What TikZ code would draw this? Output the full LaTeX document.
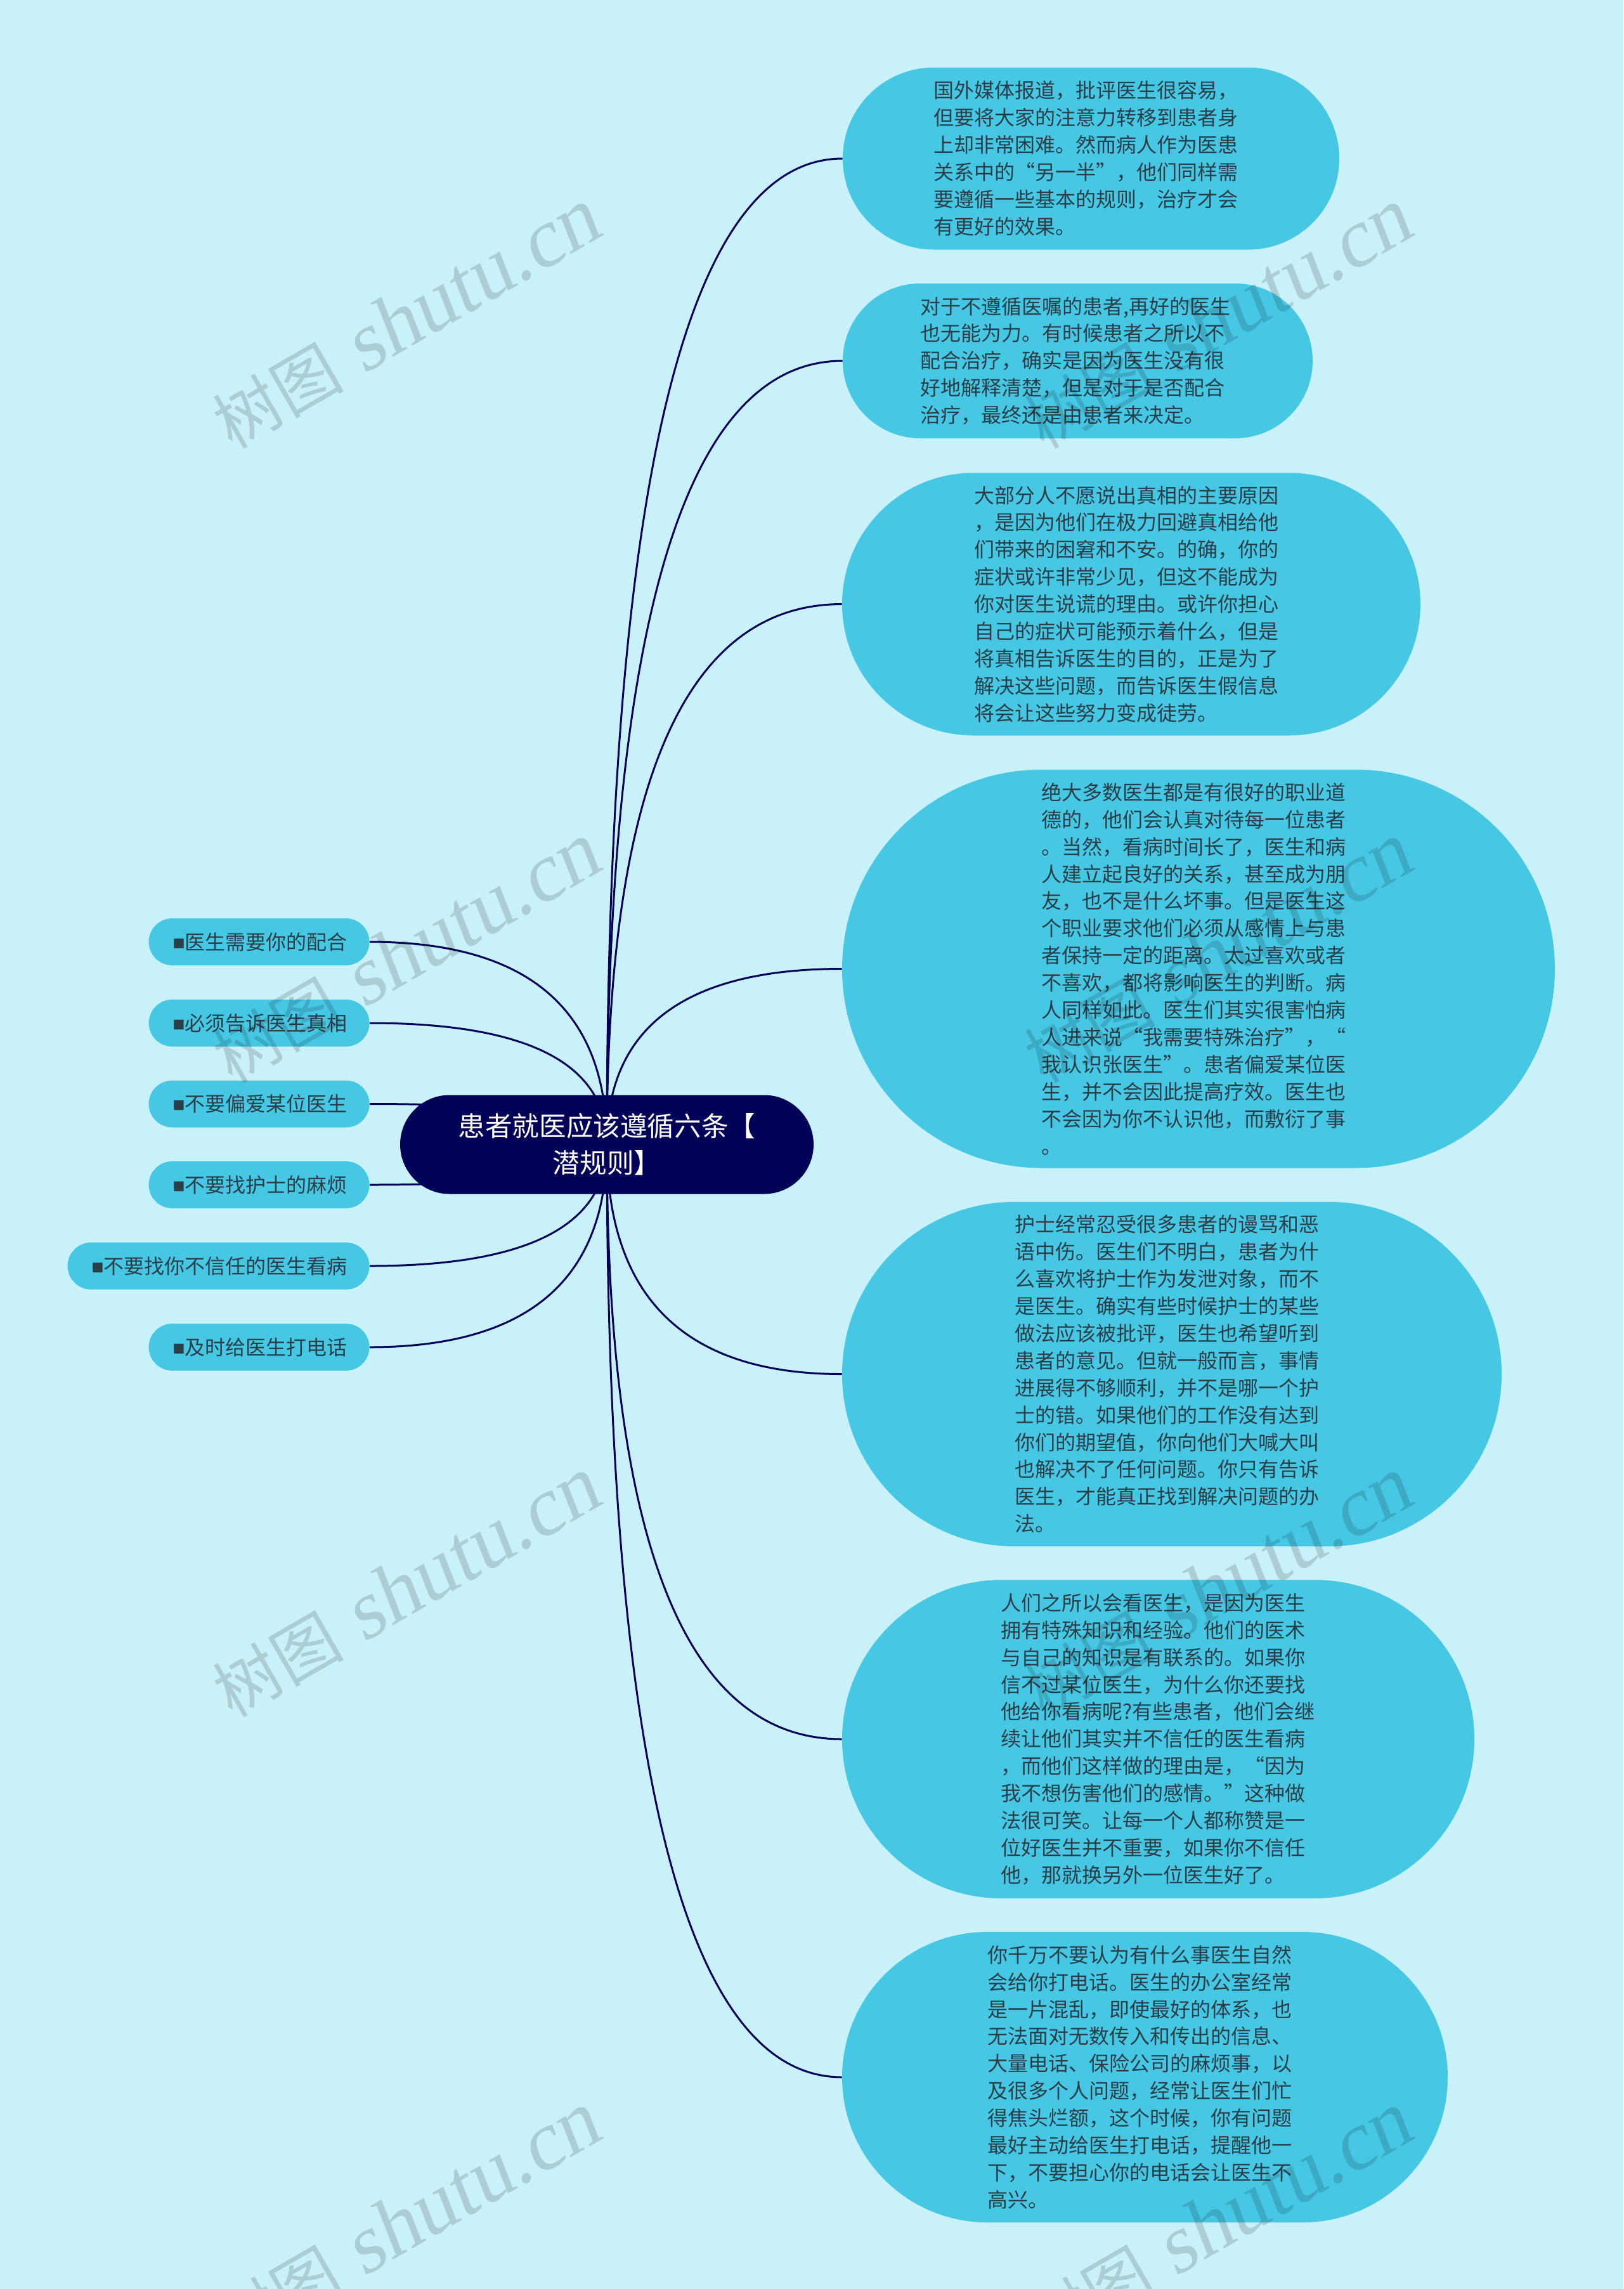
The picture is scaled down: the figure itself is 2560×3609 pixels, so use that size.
\documentclass[tikz,border=0pt]{standalone}
\usepackage{fontspec}
\setmainfont{Noto Sans CJK SC}
\newfontfamily\boxfont{Liberation Sans}
\newfontfamily\marklatin[FakeSlant=0.15]{Liberation Serif}
\newfontfamily\markcjk{Noto Sans CJK SC}
\usetikzlibrary{shapes.misc, backgrounds, calc}

\definecolor{pagebg}{RGB}{201, 241, 249}
\definecolor{pillblue}{RGB}{70, 200, 229}
\definecolor{rootnavy}{RGB}{1, 1, 88}
\definecolor{inkdark}{RGB}{42, 62, 72}

\tikzset{
	branch/.style={draw=rootnavy, line width=1.5pt},
	rootpill/.style={rounded rectangle, fill=rootnavy, text=white, align=center, inner sep=0pt,
		minimum width=326pt, minimum height=78pt, font=\fontsize{21.3}{28.8}\selectfont},
	leafpill/.style={rounded rectangle, fill=pillblue, text=inkdark, inner sep=0pt,
		minimum height=37pt, anchor=east, font=\fontsize{16}{21.45}\selectfont},
	detail/.style={rounded rectangle, fill=pillblue, text=inkdark, align=left, inner sep=0pt,
		text width=248pt, font=\fontsize{16}{21.45}\selectfont},
	watermark/.style={rotate=30, text=black, text opacity=.15, inner sep=0pt}
}
\newcommand{\sq}{{\kern1.5pt\boxfont\fontsize{16}{21.45}\selectfont ■}}

\begin{document}
\begin{tikzpicture}[x=.5pt, y=-.5pt]
	\useasboundingbox (0, 0) rectangle (2560, 3609);

	\node[rootpill] (root) at (957, 1804.5) {患者就医应该遵循六条【\\潜规则】};

	\node[leafpill, minimum width=174pt] (l1) at (583, 1485) {\sq 医生需要你的配合};
	\node[leafpill, minimum width=174pt] (l2) at (583, 1613) {\sq 必须告诉医生真相};
	\node[leafpill, minimum width=174pt] (l3) at (583, 1740.5) {\sq 不要偏爱某位医生};
	\node[leafpill, minimum width=174pt] (l4) at (583, 1868) {\sq 不要找护士的麻烦};
	\node[leafpill, minimum width=238pt] (l5) at (583, 1996) {\sq 不要找你不信任的医生看病};
	\node[leafpill, minimum width=174pt] (l6) at (583, 2124) {\sq 及时给医生打电话};

	\node[detail, minimum width=391.5pt, minimum height=143.5pt] (d1) at (1720.5, 250) {国外媒体报道，批评医生很容易，\\但要将大家的注意力转移到患者身\\上却非常困难。然而病人作为医患\\关系中的“另一半”，他们同样需\\要遵循一些基本的规则，治疗才会\\有更好的效果。};
	\node[detail, minimum width=370.5pt, minimum height=122pt] (d2) at (1699.5, 569) {对于不遵循医嘱的患者,再好的医生\\也无能为力。有时候患者之所以不\\配合治疗，确实是因为医生没有很\\好地解释清楚，但是对于是否配合\\治疗，最终还是由患者来决定。};
	\node[detail, minimum width=456pt, minimum height=207pt] (d3) at (1784, 952.5) {大部分人不愿说出真相的主要原因\\，是因为他们在极力回避真相给他\\们带来的困窘和不安。的确，你的\\症状或许非常少见，但这不能成为\\你对医生说谎的理由。或许你担心\\自己的症状可能预示着什么，但是\\将真相告诉医生的目的，正是为了\\解决这些问题，而告诉医生假信息\\将会让这些努力变成徒劳。};
	\node[detail, minimum width=562pt, minimum height=314pt] (d4) at (1890, 1527.5) {绝大多数医生都是有很好的职业道\\德的，他们会认真对待每一位患者\\。当然，看病时间长了，医生和病\\人建立起良好的关系，甚至成为朋\\友，也不是什么坏事。但是医生这\\个职业要求他们必须从感情上与患\\者保持一定的距离。太过喜欢或者\\不喜欢，都将影响医生的判断。病\\人同样如此。医生们其实很害怕病\\人进来说“我需要特殊治疗”，“\\我认识张医生”。患者偏爱某位医\\生，并不会因此提高疗效。医生也\\不会因为你不认识他，而敷衍了事\\。};
	\node[detail, minimum width=520pt, minimum height=271.5pt] (d5) at (1848, 2166.5) {护士经常忍受很多患者的谩骂和恶\\语中伤。医生们不明白，患者为什\\么喜欢将护士作为发泄对象，而不\\是医生。确实有些时候护士的某些\\做法应该被批评，医生也希望听到\\患者的意见。但就一般而言，事情\\进展得不够顺利，并不是哪一个护\\士的错。如果他们的工作没有达到\\你们的期望值，你向他们大喊大叫\\也解决不了任何问题。你只有告诉\\医生，才能真正找到解决问题的办\\法。};
	\node[detail, minimum width=498.5pt, minimum height=251pt] (d6) at (1826.5, 2742) {人们之所以会看医生，是因为医生\\拥有特殊知识和经验。他们的医术\\与自己的知识是有联系的。如果你\\信不过某位医生，为什么你还要找\\他给你看病呢?有些患者，他们会继\\续让他们其实并不信任的医生看病\\，而他们这样做的理由是，“因为\\我不想伤害他们的感情。”这种做\\法很可笑。让每一个人都称赞是一\\位好医生并不重要，如果你不信任\\他，那就换另外一位医生好了。};
	\node[detail, minimum width=477.5pt, minimum height=229pt] (d7) at (1805.5, 3275) {你千万不要认为有什么事医生自然\\会给你打电话。医生的办公室经常\\是一片混乱，即使最好的体系，也\\无法面对无数传入和传出的信息、\\大量电话、保险公司的麻烦事，以\\及很多个人问题，经常让医生们忙\\得焦头烂额，这个时候，你有问题\\最好主动给医生打电话，提醒他一\\下，不要担心你的电话会让医生不\\高兴。};

	\begin{scope}[on background layer]
		\fill[pagebg] (0, 0) rectangle (2560, 3609);
		\foreach \n in {d1, d2, d3, d4, d5, d6, d7}
		\draw[branch] (root.center) .. controls ($(root.center)!.667!(root.center |- \n.west)$) and ($(\n.west)!.667!(root.center |- \n.west)$) .. (\n.west);
		\foreach \n in {l1, l2, l3, l4, l5, l6}
		\draw[branch] (root.center) .. controls ($(root.center)!.667!(root.center |- \n.east)$) and ($(\n.east)!.667!(root.center |- \n.east)$) .. (\n.east);
	\end{scope}

	\begin{scope}
		\clip (0, 0) rectangle (2560, 3609);
		\foreach \x in {0, 1}
		\foreach \y in {0, ..., 3}
		\node[watermark] (mark\x\y) at (640 + 1280 * \x, 504 + 1000 * \y) {{\markcjk\fontsize{51.5}{60}\selectfont 树图}\kern16pt{\marklatin\fontsize{65.5}{70}\selectfont shutu.cn}};
	\end{scope}
\end{tikzpicture}
\end{document}
